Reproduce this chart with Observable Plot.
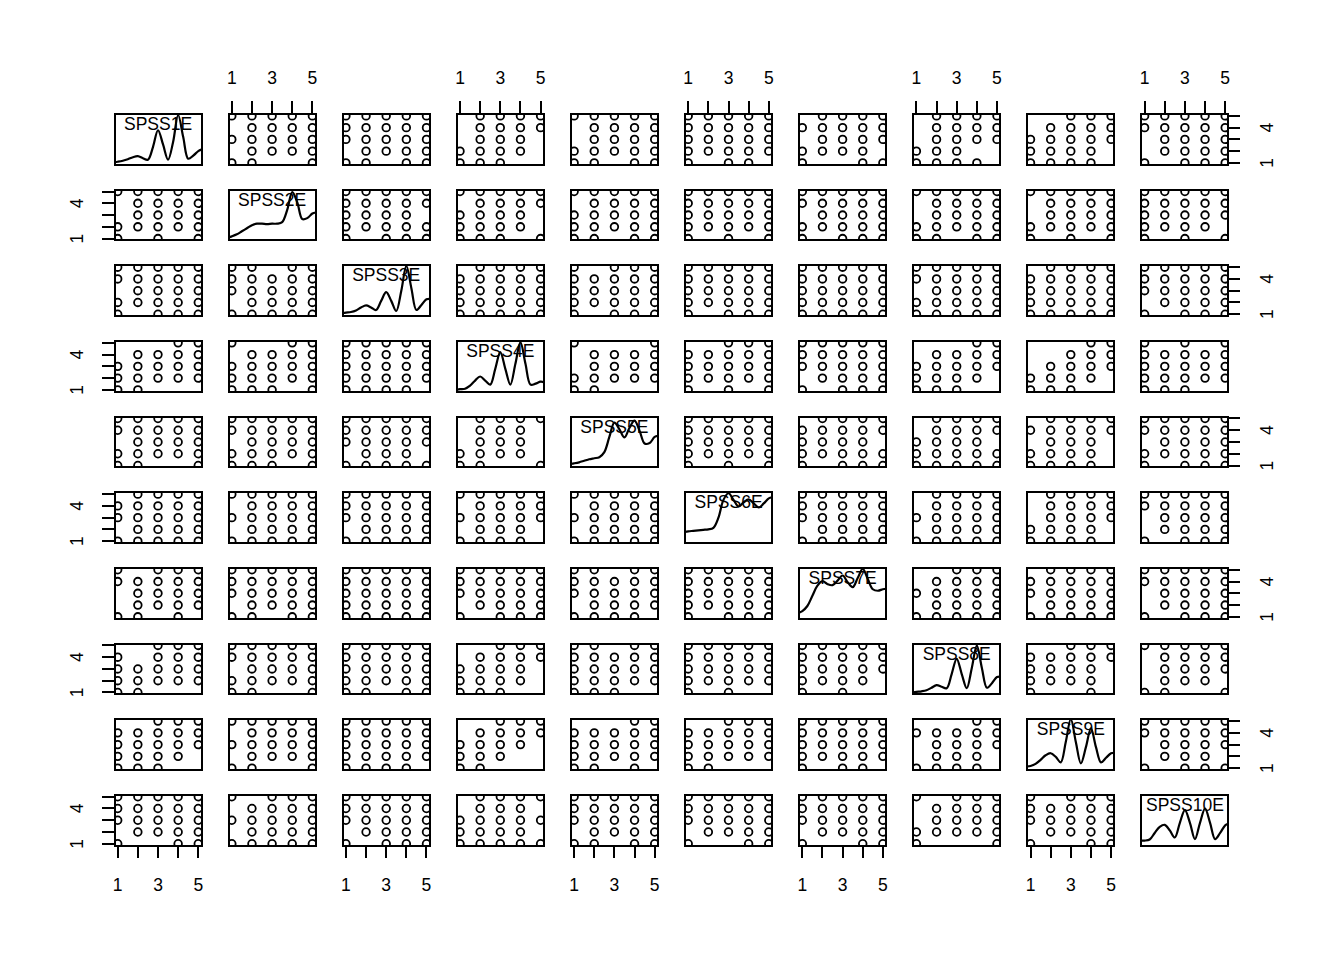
<!DOCTYPE html>
<html>
<head>
<meta charset="utf-8">
<script src="https://cdn.jsdelivr.net/npm/d3@7"></script>
<script src="https://cdn.jsdelivr.net/npm/@observablehq/plot@0.6"></script>
<style>
  html, body { margin: 0; padding: 0; background: #ffffff; }
  #chart { position: absolute; left: 0; top: 0; }
</style>
</head>
<body>
<div id="chart"></div>
<script>
// ---------------- data ----------------
const variables = ["SPSS1E","SPSS2E","SPSS3E","SPSS4E","SPSS5E","SPSS6E","SPSS7E","SPSS8E","SPSS9E","SPSS10E"];
const levels = [1, 2, 3, 4, 5];
const xLabelLevels = [1, 3, 5];
const yLabelLevels = [1, 4];

// density curves on the diagonal (relative height, read at these x values)
const densityX  = [0.84, 1, 1.25, 1.5, 1.75, 2, 2.25, 2.5, 2.75, 3, 3.25, 3.5, 3.75, 4, 4.25, 4.5, 4.75, 5, 5.16];
const density1  = [0.05, 0.06, 0.08, 0.11, 0.15, 0.17, 0.13, 0.10, 0.35, 0.68, 0.40, 0.10, 0.45, 0.98, 0.55, 0.12, 0.18, 0.27, 0.30];
const density2  = [0.06, 0.08, 0.12, 0.18, 0.24, 0.30, 0.33, 0.33, 0.32, 0.33, 0.33, 0.36, 0.60, 0.95, 0.75, 0.42, 0.44, 0.53, 0.55];
const density3  = [0.06, 0.07, 0.08, 0.11, 0.17, 0.21, 0.17, 0.12, 0.30, 0.47, 0.30, 0.10, 0.50, 0.99, 0.55, 0.12, 0.22, 0.33, 0.34];
const density4  = [0.04, 0.05, 0.06, 0.12, 0.22, 0.30, 0.22, 0.14, 0.45, 0.78, 0.45, 0.14, 0.55, 0.97, 0.55, 0.14, 0.16, 0.20, 0.19];
const density5  = [0.07, 0.08, 0.10, 0.13, 0.16, 0.18, 0.20, 0.30, 0.60, 0.88, 0.75, 0.59, 0.78, 0.92, 0.72, 0.47, 0.48, 0.60, 0.62];
const density6  = [0.22, 0.23, 0.24, 0.25, 0.26, 0.27, 0.30, 0.50, 0.85, 0.98, 0.85, 0.72, 0.80, 0.86, 0.78, 0.70, 0.78, 0.88, 0.90];
const density7  = [0.12, 0.15, 0.25, 0.45, 0.65, 0.74, 0.68, 0.66, 0.75, 0.85, 0.72, 0.62, 0.80, 0.98, 0.78, 0.58, 0.55, 0.58, 0.59];
const density8  = [0.04, 0.05, 0.06, 0.08, 0.13, 0.18, 0.15, 0.12, 0.40, 0.70, 0.40, 0.12, 0.52, 0.96, 0.52, 0.13, 0.22, 0.34, 0.35];
const density9  = [0.07, 0.08, 0.12, 0.20, 0.29, 0.33, 0.26, 0.15, 0.55, 1.00, 0.55, 0.13, 0.45, 0.82, 0.45, 0.15, 0.24, 0.33, 0.34];
const density10 = [0.10, 0.10, 0.12, 0.25, 0.37, 0.41, 0.30, 0.16, 0.45, 0.70, 0.45, 0.13, 0.45, 0.73, 0.45, 0.13, 0.25, 0.40, 0.43];
const densities = [density1, density2, density3, density4, density5, density6, density7, density8, density9, density10];

// which (value_i, value_j) combinations occur, for each pair i<j
// each entry: 5 strings, y = value of variable i from 5 (first) down to 1; characters = value of variable j from 1 to 5
const presence1 = [
  ["11111","01111","11111","01111","11001"], // 1-2
  ["11111","11111","11111","01111","11011"], // 1-3
  ["01111","01111","01110","11110","11100"], // 1-4
  ["11111","01111","01111","11111","11011"], // 1-5
  ["11111","11111","11111","11111","10110"], // 1-6
  ["01111","11111","01111","11110","10011"], // 1-7
  ["01111","01111","01111","11100","11110"], // 1-8
  ["00111","01111","11111","11110","11110"], // 1-9
  ["11111","11111","01111","01111","10111"]  // 1-10
];
const presence2 = [
  ["11111","11111","11110","11111","10111"], // 2-3
  ["11111","01111","11110","11110","11101"], // 2-4
  ["11111","01111","11111","11111","11011"], // 2-5
  ["11111","11111","11111","11111","10101"], // 2-6
  ["11111","11111","01111","11111","10111"], // 2-7
  ["11111","01111","01111","11111","11011"], // 2-8
  ["11111","01111","01111","11111","10101"], // 2-9
  ["11111","11111","11111","11110","10101"]  // 2-10
];
const presence3 = [
  ["01111","11111","11111","11111","11111"], // 3-4
  ["10111","11111","11111","11111","10111"], // 3-5
  ["11111","11111","11111","11111","10111"], // 3-6
  ["11111","11111","11111","11111","11111"], // 3-7
  ["11111","11111","01111","11111","11111"], // 3-8
  ["01111","11111","11111","11111","11111"], // 3-9
  ["11111","11111","11111","01111","10111"]  // 3-10
];
const presence4 = [
  ["10001","01111","01111","11111","11000"], // 4-5
  ["00111","11111","11111","11111","10101"], // 4-6
  ["11111","11111","11111","01111","10111"], // 4-7
  ["00011","01111","11111","11110","11100"], // 4-8
  ["00011","00111","01111","11110","11100"], // 4-9
  ["10101","11111","11111","11111","11100"]  // 4-10
];
const presence5 = [
  ["11111","11111","11111","11111","10101"], // 5-6
  ["01111","11111","11110","11111","10111"], // 5-7
  ["01111","01111","11110","11111","11111"], // 5-8
  ["01111","11111","01110","11110","11110"], // 5-9
  ["11111","11111","01111","11111","10111"]  // 5-10
];
const presence6 = [
  ["11111","11111","11111","01111","11111"], // 6-7
  ["01111","01111","11111","01111","11111"], // 6-8
  ["01111","01111","01111","11110","11110"], // 6-9
  ["11111","11111","01111","01111","10111"]  // 6-10
];
const presence7 = [
  ["00111","01111","11111","01111","11111"], // 7-8
  ["01111","11111","11111","01111","11111"], // 7-9
  ["11111","11111","01111","01111","10111"]  // 7-10
];
const presence8 = [
  ["00111","11111","11110","11110","10010"], // 8-9
  ["11111","01111","01111","01110","11001"]  // 8-10
];
const presence9 = [
  ["11111","11111","01111","01110","10111"]  // 9-10
];
const presenceByRow = [presence1, presence2, presence3, presence4, presence5, presence6, presence7, presence8, presence9];

// ---------------- derived tables ----------------
const nVars = variables.length;
const lo = 0.84, hi = 5.16;           // each panel's range, 4% beyond 1..5

const points = [];
presenceByRow.forEach((list, ii) => {
  const i = ii + 1;
  list.forEach((rows, k) => {
    const j = i + 1 + k;
    rows.forEach((s, r) => {
      const yv = 5 - r;
      [...s].forEach((ch, c) => {
        if (ch === "1") {
          const xv = c + 1;
          points.push({row: i, col: j, x: xv, y: yv});   // upper panel: x = var j, y = var i
          points.push({row: j, col: i, x: yv, y: xv});   // lower panel: x = var i, y = var j
        }
      });
    });
  });
});

const densityRows = [];
densities.forEach((d, k) => {
  d.forEach((v, t) => densityRows.push({row: k + 1, col: k + 1, x: densityX[t], y: lo + v * (hi - lo)}));
});

const diagLabels = variables.map((name, k) => ({row: k + 1, col: k + 1, name}));

const idx = d3.range(1, nVars + 1);
const topAxis    = idx.filter(c => c % 2 === 0).flatMap(c => levels.map(v => ({row: 1, col: c, v})));
const bottomAxis = idx.filter(c => c % 2 === 1).flatMap(c => levels.map(v => ({row: nVars, col: c, v})));
const leftAxis   = idx.filter(r => r % 2 === 0).flatMap(r => levels.map(v => ({row: r, col: 1, v})));
const rightAxis  = idx.filter(r => r % 2 === 1).flatMap(r => levels.map(v => ({row: r, col: nVars, v})));
const onlyX = arr => arr.filter(d => xLabelLevels.includes(d.v));
const onlyY = arr => arr.filter(d => yLabelLevels.includes(d.v));

// ---------------- layout ----------------
const W = 1344, H = 960;
const leftEdge = 114, topEdge = 113.5;
const colStep = 114.1, colBand = 87;
const rowStep = 75.65, rowBand = 50.8;
const rightEdge = leftEdge + colStep * (nVars - 1) + colBand;
const bottomEdge = topEdge + rowStep * (nVars - 1) + rowBand;
const pxX = colBand / (hi - lo), pxY = rowBand / (hi - lo);
const tickLen = 12.5;
const fs = 17.5;
const font = "Arial, 'Liberation Sans', Helvetica, sans-serif";

const chart = Plot.plot({
  width: W,
  height: H,
  marginLeft: leftEdge,
  marginRight: W - rightEdge,
  marginTop: topEdge,
  marginBottom: H - bottomEdge,
  style: {fontFamily: font, fontSize: fs + "px", background: "#ffffff", color: "#000000"},
  fx: {domain: idx, paddingInner: 1 - colBand / colStep, paddingOuter: 0, round: false, axis: null},
  fy: {domain: idx, paddingInner: 1 - rowBand / rowStep, paddingOuter: 0, round: false, axis: null},
  x: {domain: [lo, hi], axis: null},
  y: {domain: [lo, hi], axis: null},
  marks: [
    Plot.dot(points, {x: "x", y: "y", fx: "col", fy: "row", r: 3.8, stroke: "#000000", strokeWidth: 1.8, fill: "none", clip: true}),
    Plot.line(densityRows, {x: "x", y: "y", fx: "col", fy: "row", z: "row", curve: "catmull-rom", stroke: "#000000", strokeWidth: 2.2, clip: true}),
    Plot.text(diagLabels, {fx: "col", fy: "row", text: "name", frameAnchor: "top", lineAnchor: "middle", dy: 10.5, fontSize: fs, fill: "#000000"}),
    Plot.frame({stroke: "#000000", strokeWidth: 2, shapeRendering: "crispEdges"}),
    // axes: ticks
    Plot.ruleX(topAxis,    {x: "v", fx: "col", fy: "row", y1: hi, y2: hi + tickLen / pxY, stroke: "#000000", strokeWidth: 2, shapeRendering: "crispEdges"}),
    Plot.ruleX(bottomAxis, {x: "v", fx: "col", fy: "row", y1: lo, y2: lo - tickLen / pxY, stroke: "#000000", strokeWidth: 2, shapeRendering: "crispEdges"}),
    Plot.ruleY(leftAxis,   {y: "v", fx: "col", fy: "row", x1: lo, x2: lo - tickLen / pxX, stroke: "#000000", strokeWidth: 2, shapeRendering: "crispEdges"}),
    Plot.ruleY(rightAxis,  {y: "v", fx: "col", fy: "row", x1: hi, x2: hi + tickLen / pxX, stroke: "#000000", strokeWidth: 2, shapeRendering: "crispEdges"}),
    // axes: labels
    Plot.text(onlyX(topAxis),    {x: "v", fx: "col", fy: "row", y: hi + 36 / pxY, text: d => String(d.v), fontSize: fs, fill: "#000000"}),
    Plot.text(onlyX(bottomAxis), {x: "v", fx: "col", fy: "row", y: lo - 40 / pxY, text: d => String(d.v), fontSize: fs, fill: "#000000"}),
    Plot.text(onlyY(leftAxis),   {y: "v", fx: "col", fy: "row", x: lo - 37 / pxX, text: d => String(d.v), rotate: -90, fontSize: fs, fill: "#000000"}),
    Plot.text(onlyY(rightAxis),  {y: "v", fx: "col", fy: "row", x: hi + 39 / pxX, text: d => String(d.v), rotate: -90, fontSize: fs, fill: "#000000"})
  ]
});
document.getElementById("chart").appendChild(chart);
</script>
</body>
</html>
